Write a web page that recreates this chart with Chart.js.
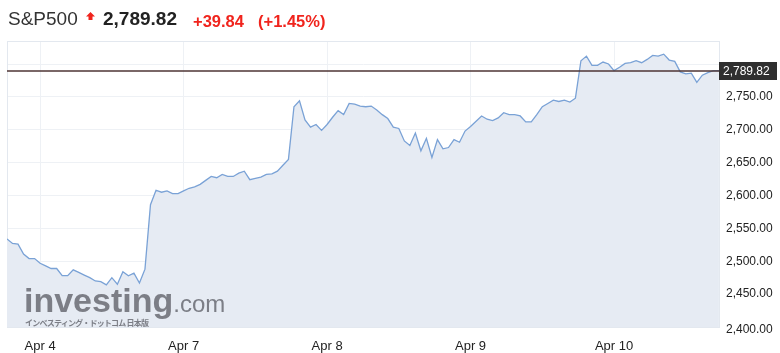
<!DOCTYPE html>
<html>
<head>
<meta charset="utf-8">
<script src="https://cdn.jsdelivr.net/npm/chart.js@4.4.1/dist/chart.umd.min.js"></script>
<style>
  html, body { margin: 0; padding: 0; background: #fff; }
  body { width: 780px; height: 353px; position: relative; overflow: hidden; font-family: Arial, "Liberation Sans", sans-serif; }
  #chart { position: absolute; left: 0; top: 0; }
  .head { position: absolute; top: 7px; left: 8px; white-space: nowrap; }
  .head span { position: absolute; top: 0; line-height: 24px; }
  .name { font-size: 19px; color: #333; left: 0; }
  .arrow { left: 78px; top: -3px !important; }
  .last { font-size: 19px; font-weight: bold; color: #222; left: 95px; }
  .chg { font-size: 16.5px; font-weight: bold; color: #f0241d; }
  .wm { position: absolute; left: 0; top: 250px; width: 720px; height: 77px; overflow: hidden; pointer-events: none; }
  .wm .big { position: absolute; left: 24px; top: 30px; font-size: 34px; font-weight: bold; color: rgba(112,114,122,0.9); line-height: 40px; }
  .wm .com { font-size: 24px; font-weight: normal; }
  .wm .jp { position: absolute; left: 25px; top: 68px; font-size: 8px; color: rgba(112,114,122,0.9); font-family: "Noto Sans CJK JP", sans-serif; line-height: 10px; letter-spacing: -0.8px; font-weight: bold; }
</style>
</head>
<body>
<canvas id="chart" width="780" height="353"></canvas>
<div class="head">
  <span class="name">S&amp;P500</span>
  <span class="arrow"><svg width="9" height="9" viewBox="0 0 9 9"><polygon points="4.5,0 9,4.5 6.5,4.5 6.5,8 2.5,8 2.5,4.5 0,4.5" fill="#f0241d"/></svg></span>
  <span class="last">2,789.82</span>
  <span class="chg" style="left:185px; top:2px">+39.84</span>
  <span class="chg" style="left:250px; top:2px">(+1.45%)</span>
</div>
<div class="wm">
  <div class="big">investing<span class="com">.com</span></div>
  <div class="jp">インベスティング・ドットコム 日本版</div>
</div>
<script>
// S&P500 price, one value per interval (Apr 4 - Apr 10)
const closes = [
  2534, 2527, 2526, 2511, 2504, 2504, 2497, 2493, 2489, 2489,
  2478, 2478, 2487, 2483, 2479, 2475, 2470, 2469, 2464, 2475,
  2465, 2484, 2478, 2482, 2467, 2488, 2586, 2608, 2605, 2607,
  2603, 2603, 2607, 2611, 2613, 2617, 2623, 2629, 2627, 2632,
  2629, 2629, 2634, 2637, 2624, 2626, 2628, 2632, 2633, 2637,
  2646, 2655, 2735, 2744, 2715, 2704, 2708, 2699, 2708, 2719,
  2729, 2723, 2740, 2739, 2736, 2735, 2736, 2730, 2723, 2717,
  2704, 2702, 2683, 2676, 2695, 2668, 2687, 2658, 2685, 2671,
  2673, 2685, 2681, 2698, 2705, 2713, 2721, 2716, 2714, 2718,
  2726, 2723, 2723, 2721, 2712, 2712, 2723, 2735, 2740, 2745,
  2743, 2745, 2742, 2748, 2805, 2812, 2798, 2798, 2803, 2800,
  2790, 2795, 2801, 2802, 2805, 2802, 2807, 2813, 2812, 2815,
  2806, 2804, 2788, 2785, 2786, 2772, 2783, 2787, 2790, 2789.82
];
const lastPrice = 2789.82;

// where each day label sits (interval index) and its text
const dayTicks = [6, 32, 58, 84, 110];
const dayLabels = ['Apr 4', 'Apr 7', 'Apr 8', 'Apr 9', 'Apr 10'];

// price axis ticks
const priceTicks = [2400, 2450, 2500, 2550, 2600, 2650, 2700, 2750, 2800];

const fmt = v => v.toLocaleString('en-US', { minimumFractionDigits: 2, maximumFractionDigits: 2 });

Chart.defaults.font.family = 'Arial, "Liberation Sans", sans-serif';
Chart.defaults.color = '#222';

const frame = {
  id: 'frame',
  beforeDatasetsDraw(chart) {
    const { ctx, chartArea: a } = chart;
    ctx.save();
    ctx.strokeStyle = '#e3e8ef';
    ctx.lineWidth = 1;
    ctx.strokeRect(a.left + 0.5, a.top + 0.5, a.right - a.left - 1, a.bottom - a.top);
    ctx.restore();
  },
  afterDraw(chart) {
    const { ctx, chartArea: a } = chart;
    const y = chart.scales.y;
    const py = Math.round(y.getPixelForValue(lastPrice));
    ctx.save();
    // last price line
    ctx.strokeStyle = '#4e3434';
    ctx.lineWidth = 1.5;
    ctx.beginPath();
    ctx.moveTo(a.left, py);
    ctx.lineTo(a.right, py);
    ctx.stroke();
    // last price box
    ctx.fillStyle = '#2f2f2f';
    ctx.fillRect(a.right - 1, py - 9, 58, 18);
    ctx.fillStyle = '#fff';
    ctx.font = '12px Arial, "Liberation Sans", sans-serif';
    ctx.textBaseline = 'middle';
    ctx.fillText(fmt(lastPrice), a.right + 3, py + 1);
    // bottom price label sits a little under its grid line
    ctx.fillStyle = '#222';
    ctx.fillText(fmt(2400), a.right + 6, y.getPixelForValue(2400) + 3);
    ctx.restore();
  }
};

new Chart(document.getElementById('chart'), {
  type: 'line',
  data: {
    datasets: [{
      data: closes.map((v, i) => ({ x: i, y: v })),
      borderColor: '#7aa2d6',
      borderWidth: 1.3,
      backgroundColor: '#e6ebf3',
      fill: 'start',
      pointRadius: 0,
      tension: 0
    }]
  },
  options: {
    responsive: false,
    animation: false,
    layout: { padding: { left: 7, top: 41, right: 0, bottom: 0 } },
    plugins: { legend: { display: false }, tooltip: { enabled: false } },
    scales: {
      x: {
        type: 'linear',
        min: 0,
        max: 129.2,
        afterBuildTicks: s => { s.ticks = dayTicks.map(v => ({ value: v })); },
        afterFit: s => { s.height = 26; },
        grid: { color: '#eef1f5', drawTicks: false },
        border: { display: false },
        ticks: {
          padding: 12,
          maxRotation: 0,
          autoSkip: false,
          font: { size: 13 },
          callback: v => dayLabels[dayTicks.indexOf(v)]
        }
      },
      y: {
        position: 'right',
        min: 2400,
        max: 2835,
        afterBuildTicks: s => { s.ticks = priceTicks.map(v => ({ value: v })); },
        afterFit: s => { s.width = 60; },
        grid: { color: '#eef1f5', drawTicks: false },
        border: { display: false },
        ticks: {
          padding: 6,
          font: { size: 12 },
          callback: v => (v === 2400 || v > 2750) ? '' : fmt(v)
        }
      }
    }
  },
  plugins: [frame]
});
</script>
</body>
</html>
